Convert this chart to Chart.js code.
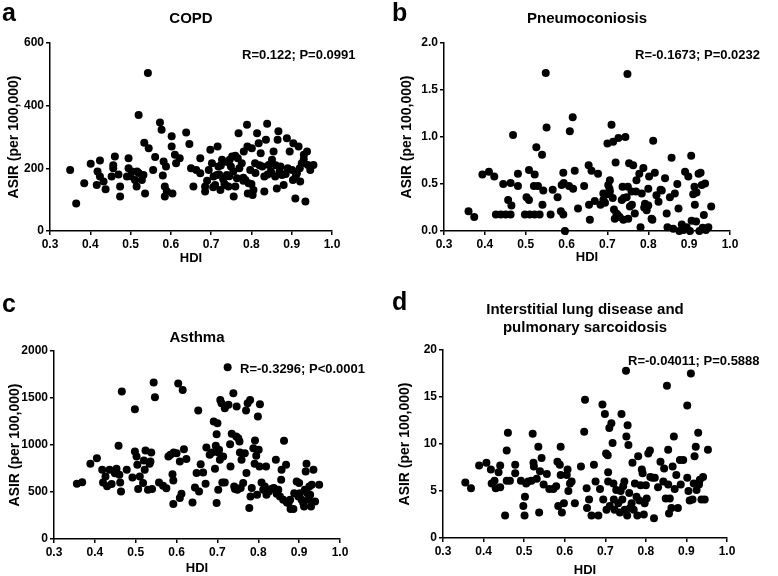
<!DOCTYPE html>
<html>
<head>
<meta charset="utf-8">
<script src="https://cdn.jsdelivr.net/npm/chart.js@4.4.1/dist/chart.umd.min.js"></script>
<style>
  html, body { margin: 0; padding: 0; background: #fff; }
  body { width: 778px; height: 576px; position: relative; overflow: hidden; }
  canvas { position: absolute; }
</style>
</head>
<body>
<canvas id="pa" width="389" height="288" style="left:0;top:0"></canvas>
<canvas id="pb" width="389" height="288" style="left:389px;top:0"></canvas>
<canvas id="pc" width="389" height="292" style="left:0;top:288px"></canvas>
<canvas id="pd" width="389" height="292" style="left:389px;top:288px"></canvas>
<script>
const FONT = "'Liberation Sans', Arial, sans-serif"

// shared x axis (HDI)
const xTicks = [0.3, 0.4, 0.5, 0.6, 0.7, 0.8, 0.9, 1.0]

// a: COPD
const copdTicks = [0, 200, 400, 600]
const copdHDI = [0.35,0.365,0.385,0.401,0.416,0.418,0.424,0.424,0.433,0.438,0.453,0.457,0.457,0.461,0.474,0.474,0.47,0.491,0.495,0.495,
  0.5,0.503,0.511,0.515,0.516,0.52,0.52,0.528,0.532,0.534,0.536,0.543,0.545,0.556,0.561,0.573,0.577,0.58,0.582,0.585,
  0.585,0.588,0.59,0.602,0.602,0.604,0.61,0.613,0.622,0.638,0.646,0.65,0.656,0.663,0.673,0.673,0.685,0.685,0.69,0.694,
  0.698,0.702,0.705,0.706,0.71,0.714,0.716,0.718,0.72,0.723,0.724,0.727,0.73,0.733,0.735,0.739,0.74,0.743,0.745,0.746,
  0.749,0.752,0.755,0.756,0.76,0.76,0.764,0.766,0.768,0.77,0.776,0.78,0.78,0.781,0.785,0.789,0.79,0.791,0.793,0.797,
  0.8,0.801,0.803,0.805,0.809,0.81,0.814,0.818,0.82,0.823,0.827,0.832,0.832,0.836,0.839,0.84,0.843,0.848,0.85,0.851,
  0.855,0.859,0.86,0.863,0.865,0.867,0.87,0.872,0.876,0.88,0.885,0.888,0.89,0.895,0.901,0.903,0.904,0.909,0.91,0.913,
  0.917,0.92,0.921,0.925,0.93,0.93,0.934,0.938,0.94,0.946,0.954]
const copdASIR = [195,88,152,215,147,190,225,174,158,133,174,200,210,238,142,110,180,174,232,200,
  175,190,163,142,190,185,370,163,179,282,120,504,264,195,236,346,323,177,222,142,
  110,206,127,302,270,120,243,216,232,314,278,200,142,195,184,232,142,126,160,195,
  259,216,140,174,147,179,270,206,180,131,209,227,165,150,147,179,220,142,175,227,
  206,238,190,110,142,240,168,232,312,200,216,170,160,254,163,339,270,120,152,195,
  150,264,115,131,216,185,312,280,210,248,206,174,126,291,342,180,211,190,185,227,
  254,174,210,136,291,318,190,206,179,147,182,296,200,254,195,163,280,104,175,184,
  270,200,158,216,243,230,94,254,211,195,211]

// b: Pneumoconiosis
const pneuTicks = [0, 0.5, 1.0, 1.5, 2.0]
const pneuHDI = [0.36,0.374,0.394,0.41,0.423,0.427,0.439,0.451,0.463,0.445,0.457,0.463,0.465,0.469,0.481,0.481,0.498,0.51,0.522,0.534,
  0.502,0.508,0.508,0.522,0.52,0.526,0.53,0.54,0.543,0.541,0.549,0.551,0.561,0.566,0.578,0.586,0.588,0.592,0.593,0.592,
  0.596,0.606,0.608,0.615,0.616,0.62,0.628,0.643,0.654,0.655,0.657,0.661,0.669,0.677,0.683,0.69,0.694,0.69,0.7,0.7,
  0.702,0.705,0.706,0.706,0.71,0.713,0.714,0.716,0.718,0.72,0.722,0.725,0.727,0.73,0.735,0.737,0.739,0.74,0.744,0.749,
  0.747,0.75,0.751,0.753,0.755,0.759,0.76,0.763,0.767,0.77,0.771,0.778,0.781,0.784,0.788,0.79,0.792,0.796,0.8,0.8,
  0.802,0.808,0.81,0.812,0.816,0.82,0.825,0.83,0.833,0.841,0.845,0.847,0.853,0.857,0.861,0.865,0.871,0.874,0.876,0.882,
  0.886,0.89,0.894,0.898,0.902,0.905,0.906,0.91,0.913,0.914,0.917,0.918,0.923,0.925,0.928,0.931,0.933,0.936,0.939,0.941,
  0.947,0.954]
const pneuASIR = [0.21,0.15,0.60,0.63,0.58,0.175,0.175,0.175,0.175,0.50,0.33,0.51,0.27,1.02,0.61,0.48,0.175,0.175,0.175,0.175,
  0.36,0.65,0.33,0.60,0.48,0.89,0.48,0.81,0.43,0.28,1.68,1.10,0.175,0.44,0.36,0.21,0.49,0.62,0.51,0.175,
  0.0,0.48,1.06,1.21,0.45,0.64,0.24,0.48,0.70,0.28,0.12,0.64,0.32,0.61,0.28,0.40,0.30,0.33,0.93,0.39,
  0.49,0.45,0.42,0.54,1.13,0.35,0.95,0.23,0.13,0.73,0.185,0.17,0.99,0.15,0.33,0.47,0.12,0.35,1.00,1.67,
  0.36,0.47,0.13,0.72,0.26,0.42,0.28,0.70,0.185,0.42,0.54,0.61,0.04,0.40,0.67,0.25,0.29,0.22,0.45,0.27,
  0.58,0.13,0.12,0.96,0.62,0.38,0.31,0.44,0.43,0.56,0.185,0.04,0.36,0.78,0.025,0.40,0.50,0.24,0.0,0.07,
  0.01,0.63,0.04,0.58,0.0,0.80,0.11,0.39,0.47,0.28,0.10,0.41,0.61,0.0,0.62,0.49,0.035,0.17,0.505,0.01,
  0.04,0.26]

// c: Asthma
const asthTicks = [0, 500, 1000, 1500, 2000]
const asthHDI = [0.356,0.369,0.389,0.405,0.418,0.42,0.426,0.43,0.436,0.441,0.449,0.453,0.458,0.462,0.46,0.464,0.466,0.478,0.492,0.498,
  0.498,0.502,0.504,0.506,0.51,0.518,0.52,0.522,0.524,0.53,0.534,0.536,0.538,0.54,0.544,0.547,0.557,0.567,0.575,0.58,
  0.585,0.59,0.592,0.593,0.6,0.592,0.604,0.608,0.608,0.612,0.615,0.618,0.624,0.639,0.645,0.649,0.653,0.655,0.659,0.665,
  0.671,0.673,0.681,0.687,0.691,0.694,0.696,0.698,0.698,0.7,0.702,0.702,0.704,0.706,0.707,0.71,0.712,0.714,0.725,0.718,
  0.718,0.727,0.731,0.732,0.735,0.739,0.741,0.743,0.746,0.747,0.749,0.751,0.754,0.755,0.757,0.759,0.763,0.767,0.77,0.771,
  0.774,0.778,0.78,0.781,0.784,0.788,0.791,0.792,0.795,0.797,0.799,0.801,0.803,0.804,0.808,0.812,0.816,0.819,0.82,0.826,
  0.833,0.838,0.843,0.845,0.849,0.853,0.856,0.857,0.861,0.863,0.868,0.87,0.874,0.878,0.879,0.886,0.888,0.894,0.898,0.9,
  0.902,0.906,0.91,0.912,0.914,0.916,0.918,0.92,0.923,0.925,0.927,0.929,0.931,0.935,0.939,0.949]
const asthASIR = [588,605,800,860,736,602,665,560,736,584,700,747,991,602,683,506,1568,736,655,1380,
  931,878,789,531,665,595,835,736,942,524,800,825,920,531,1664,1508,602,566,541,878,
  896,690,623,920,913,372,1655,435,825,481,1586,956,850,389,549,701,1366,506,796,708,
  588,974,896,920,1250,747,991,1115,382,1232,920,524,949,843,1480,1444,602,878,1827,602,
  1391,1427,1009,772,1119,1550,559,531,1090,1409,524,1073,1037,920,542,843,595,913,1366,701,
  1444,329,1480,453,542,966,800,1048,885,471,1303,949,772,1434,602,524,559,772,471,506,
  535,542,843,481,524,453,630,736,418,1044,789,389,382,418,319,319,488,612,453,595,
  488,418,382,347,524,719,800,488,418,559,471,347,577,736,400,577]

// d: Interstitial lung disease and pulmonary sarcoidosis
const ildTicks = [0, 5, 10, 15, 20]
const ildHDI = [0.355,0.369,0.389,0.407,0.418,0.42,0.427,0.43,0.437,0.441,0.441,0.453,0.457,0.46,0.457,0.465,0.478,0.478,0.492,0.498,
  0.501,0.502,0.505,0.51,0.518,0.521,0.523,0.524,0.531,0.535,0.537,0.539,0.543,0.548,0.556,0.562,0.572,0.579,0.582,0.584,
  0.588,0.59,0.59,0.593,0.598,0.605,0.607,0.609,0.613,0.617,0.625,0.64,0.648,0.65,0.654,0.655,0.66,0.666,0.672,0.676,
  0.683,0.687,0.693,0.695,0.699,0.702,0.703,0.706,0.707,0.707,0.71,0.711,0.715,0.718,0.72,0.721,0.723,0.727,0.732,0.736,
  0.738,0.74,0.742,0.744,0.747,0.748,0.751,0.752,0.754,0.755,0.757,0.759,0.761,0.765,0.767,0.77,0.773,0.777,0.779,0.781,
  0.784,0.787,0.79,0.792,0.795,0.797,0.8,0.802,0.806,0.81,0.811,0.816,0.82,0.822,0.83,0.836,0.843,0.845,0.849,0.852,
  0.855,0.855,0.857,0.859,0.863,0.866,0.869,0.871,0.875,0.879,0.884,0.886,0.892,0.902,0.902,0.905,0.908,0.911,0.915,0.918,
  0.92,0.923,0.925,0.929,0.931,0.933,0.937,0.941,0.945,0.953]
const ildASIR = [5.9,5.3,7.7,8.0,7.3,5.8,6.1,5.3,7.0,7.7,5.4,2.4,9.3,11.2,6.1,6.1,7.8,6.9,6.1,3.4,
  2.4,4.4,5.8,6.0,6.1,11.1,8.0,7.6,6.3,9.7,2.7,7.1,8.5,5.7,6.8,5.2,5.2,5.5,8.1,3.4,
  7.8,9.7,6.7,2.7,3.7,6.7,7.3,5.0,5.8,6.0,3.7,7.6,11.3,14.7,5.3,3.2,4.1,2.4,7.8,6.0,
  2.4,5.2,14.2,4.1,13.2,9.0,3.0,8.8,6.0,7.0,11.7,3.4,12.2,10.1,5.8,4.1,3.0,5.1,3.7,2.7,
  5.0,13.2,4.1,5.5,6.0,3.0,17.8,10.8,2.4,12.0,9.9,4.8,3.2,3.7,8.0,3.0,5.8,4.4,2.4,8.7,
  4.0,5.6,7.3,6.9,2.5,3.7,5.6,4.2,9.0,9.3,6.5,6.4,2.1,6.4,5.4,8.1,6.0,7.4,4.2,16.2,
  9.4,5.7,2.6,4.2,3.2,7.6,10.8,5.2,6.7,3.2,8.3,5.7,8.3,14.1,6.4,5.0,4.0,17.5,4.1,5.8,
  8.7,9.7,5.1,11.2,5.7,6.2,4.1,6.5,4.1,9.4]

// letter and R/P note drawn straight on each canvas
const panelText = {
  id: 'panelText',
  afterDraw(chart, args, o) {
    const ctx = chart.ctx
    ctx.save()
    ctx.fillStyle = '#000'
    ctx.textAlign = 'left'
    ctx.textBaseline = 'alphabetic'
    ctx.font = 'bold 25px ' + FONT
    ctx.fillText(o.letter, o.letterX, o.letterY)
    ctx.textBaseline = 'middle'
    ctx.font = 'bold 13px ' + FONT
    ctx.fillText(o.note, o.noteX, o.noteY)
    ctx.restore()
  },
}

function makePanel(id, p) {
  const tickFont = { family: FONT, size: 12, weight: 'bold' }
  new Chart(document.getElementById(id), {
    type: 'scatter',
    data: {
      datasets: [{
        data: p.xs.map((x, i) => ({ x, y: p.ys[i] })),
        backgroundColor: '#000',
        borderColor: '#000',
        borderWidth: 0,
        pointRadius: 4,
        clip: false,
      }],
    },
    plugins: [panelText],
    options: {
      responsive: false,
      animation: false,
      devicePixelRatio: 1,
      layout: { padding: { left: 0, right: p.padRight, top: 0, bottom: 0 } },
      plugins: {
        legend: { display: false },
        tooltip: { enabled: false },
        title: {
          display: true,
          text: p.title,
          fullSize: false,
          color: '#000',
          font: { family: FONT, size: 15, weight: 'bold', lineHeight: 1.2 },
          padding: { top: p.titleTop, bottom: p.titleBottom },
        },
        panelText: p.text,
      },
      scales: {
        x: {
          type: 'linear',
          min: 0.3,
          max: 1.0,
          afterBuildTicks: s => { s.ticks = xTicks.map(v => ({ value: v })) },
          afterFit: s => { s.height = p.xHeight },
          grid: { drawOnChartArea: false, drawTicks: true, tickLength: 4, color: '#000', lineWidth: 1.5 },
          border: { color: '#000', width: 1.5 },
          ticks: { color: '#000', font: tickFont, padding: 2, maxRotation: 0, callback: v => v.toFixed(1) },
          title: {
            display: true, text: 'HDI', color: '#000',
            font: { family: FONT, size: 13, weight: 'bold', lineHeight: 1.2 },
            padding: { top: 0, bottom: p.hdiPad },
          },
        },
        y: {
          type: 'linear',
          min: p.yTicks[0],
          max: p.yTicks[p.yTicks.length - 1],
          afterBuildTicks: s => { s.ticks = p.yTicks.map(v => ({ value: v })) },
          afterFit: s => { s.width = p.yWidth },
          grid: { drawOnChartArea: false, drawTicks: true, tickLength: 4, color: '#000', lineWidth: 1.5 },
          border: { color: '#000', width: 1.5 },
          ticks: { color: '#000', font: tickFont, padding: 2, callback: p.yFmt },
          title: {
            display: true, text: 'ASIR (per 100,000)', color: '#000',
            font: { family: FONT, size: 14, weight: 'bold', lineHeight: 1.2 },
            padding: { top: p.asirPad, bottom: 0 },
          },
        },
      },
    },
  })
}

const intFmt = v => String(v)

makePanel('pa', {
  xs: copdHDI, ys: copdASIR, yTicks: copdTicks, yFmt: intFmt,
  title: 'COPD', titleTop: 10, titleBottom: 15,
  padRight: 57, yWidth: 50, xHeight: 57, hdiPad: 22, asirPad: 5.6,
  text: { letter: 'a', letterX: 2, letterY: 21, note: 'R=0.122; P=0.0991', noteX: 242, noteY: 55 },
})

makePanel('pb', {
  xs: pneuHDI, ys: pneuASIR, yTicks: pneuTicks, yFmt: v => v.toFixed(1),
  title: 'Pneumoconiosis', titleTop: 10, titleBottom: 15,
  padRight: 48, yWidth: 55, xHeight: 57, hdiPad: 23, asirPad: 9.6,
  text: { letter: 'b', letterX: 3, letterY: 21, note: 'R=-0.1673; P=0.0232', noteX: 246, noteY: 55 },
})

makePanel('pc', {
  xs: asthHDI, ys: asthASIR, yTicks: asthTicks, yFmt: intFmt,
  title: 'Asthma', titleTop: 40.7, titleBottom: 4.3,
  padRight: 49, yWidth: 54, xHeight: 41, hdiPad: 3.5, asirPad: 6.6,
  text: { letter: 'c', letterX: 2, letterY: 24, note: 'R=-0.3296; P<0.0001', noteX: 240, noteY: 81 },
})

makePanel('pd', {
  xs: ildHDI, ys: ildASIR, yTicks: ildTicks, yFmt: intFmt,
  title: ['Interstitial lung disease and', 'pulmonary sarcoidosis'], titleTop: 13, titleBottom: 13,
  padRight: 51, yWidth: 54, xHeight: 42, hdiPad: 2, asirPad: 7.6,
  text: { letter: 'd', letterX: 3, letterY: 22, note: 'R=-0.04011; P=0.5888', noteX: 239, noteY: 73 },
})
</script>
</body>
</html>
